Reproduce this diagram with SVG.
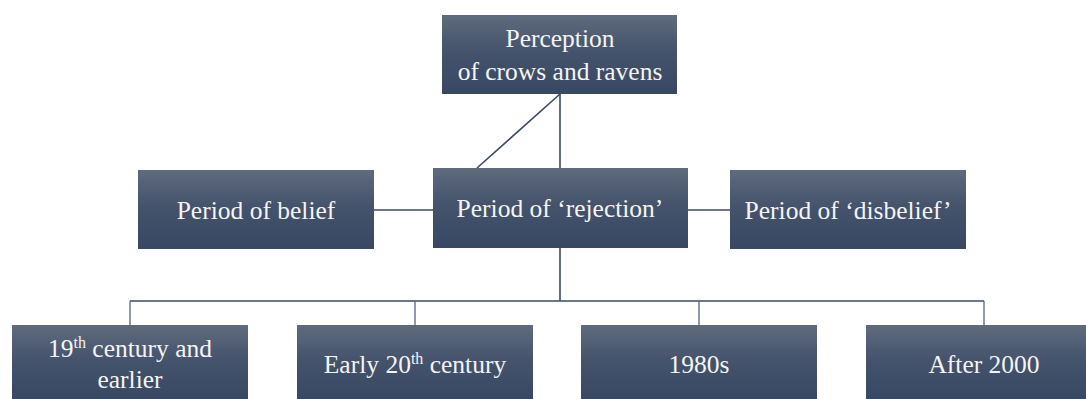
<svg xmlns="http://www.w3.org/2000/svg" width="1086" height="399" viewBox="0 0 1086 399">
  <defs>
    <linearGradient id="g" x1="0" y1="0" x2="0" y2="1">
      <stop offset="0" stop-color="#5f6b7d"/>
      <stop offset="0.45" stop-color="#45536c"/>
      <stop offset="1" stop-color="#384862"/>
    </linearGradient>
    <style>
      .box { fill: url(#g); }
      .t { font-family: "Liberation Serif", "Times New Roman", serif; font-size: 25.5px; fill: #f4f4f4; text-anchor: middle; }
      .sup { font-size: 16px; }
      .c { stroke: #3b4a62; stroke-width: 1.6; fill: none; }
      .tk { stroke: #56647a; stroke-width: 1.3; fill: none; }
    </style>
  </defs>
  <rect width="1086" height="399" fill="#ffffff"/>
  <g id="connectors">
    <line class="c" x1="560" y1="94" x2="560" y2="168"/>
    <line class="c" x1="560" y1="94" x2="477" y2="168"/>
    <line class="c" x1="374" y1="210" x2="433" y2="210"/>
    <line class="c" x1="688" y1="210" x2="730" y2="210"/>
    <line class="c" x1="560" y1="248" x2="560" y2="301"/>
    <line class="c" x1="130" y1="301" x2="984" y2="301"/>
    <line class="tk" x1="130" y1="301" x2="130" y2="325"/>
    <line class="tk" x1="415" y1="301" x2="415" y2="325"/>
    <line class="tk" x1="699" y1="301" x2="699" y2="325"/>
    <line class="tk" x1="984" y1="301" x2="984" y2="325"/>
  </g>
  <g id="node-perception">
    <rect class="box" x="442" y="15" width="235" height="79"/>
    <text class="t" x="560" y="47">Perception</text>
    <text class="t" x="560" y="80">of crows and ravens</text>
  </g>
  <g id="node-belief">
    <rect class="box" x="138" y="170" width="236" height="79"/>
    <text class="t" x="256" y="219">Period of belief</text>
  </g>
  <g id="node-rejection">
    <rect class="box" x="433" y="168" width="255" height="80"/>
    <text class="t" x="560" y="217">Period of ‘rejection’</text>
  </g>
  <g id="node-disbelief">
    <rect class="box" x="730" y="170" width="236" height="79"/>
    <text class="t" x="848" y="219">Period of ‘disbelief’</text>
  </g>
  <g id="node-19th">
    <rect class="box" x="12" y="325" width="236" height="76"/>
    <text class="t" x="130" y="357">19<tspan class="sup" dy="-9">th</tspan><tspan dy="9"> century and</tspan></text>
    <text class="t" x="130" y="388">earlier</text>
  </g>
  <g id="node-early20th">
    <rect class="box" x="297" y="325" width="236" height="76"/>
    <text class="t" x="415" y="373">Early 20<tspan class="sup" dy="-9">th</tspan><tspan dy="9"> century</tspan></text>
  </g>
  <g id="node-1980s">
    <rect class="box" x="581" y="325" width="236" height="76"/>
    <text class="t" x="699" y="373">1980s</text>
  </g>
  <g id="node-after2000">
    <rect class="box" x="866" y="325" width="236" height="76"/>
    <text class="t" x="984" y="373">After 2000</text>
  </g>
</svg>
